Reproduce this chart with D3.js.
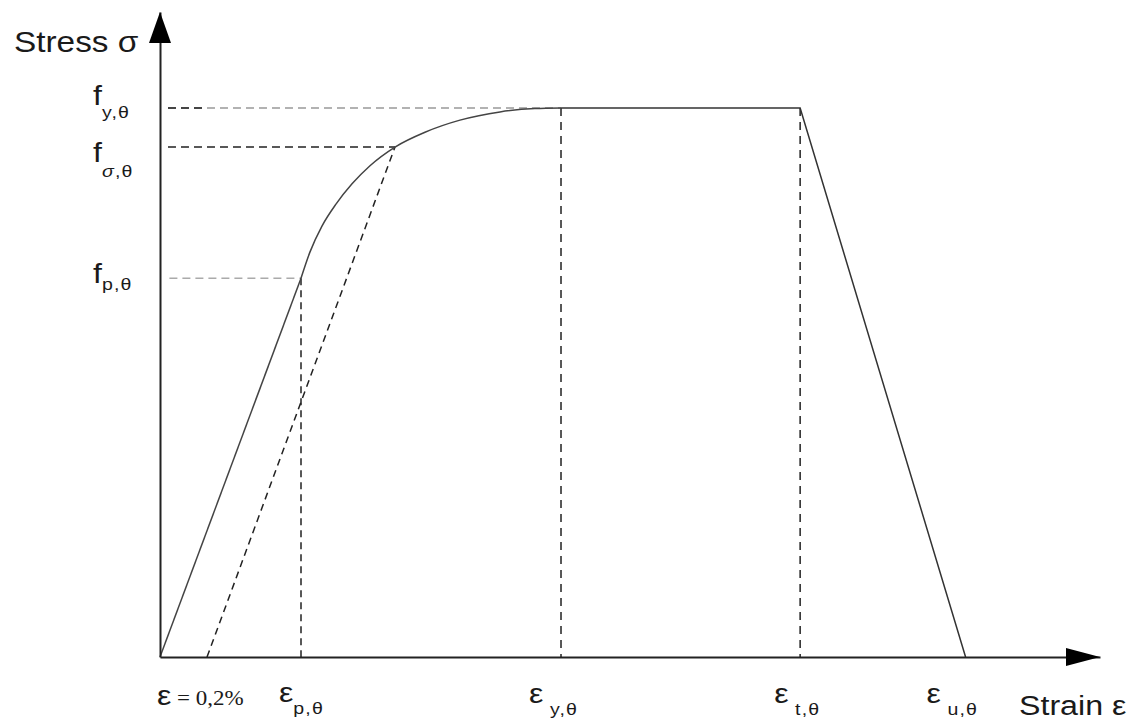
<!DOCTYPE html>
<html>
<head>
<meta charset="utf-8">
<script src="https://cdn.jsdelivr.net/npm/d3@7"></script>
<style>
  body { margin: 0; background: #fff; }
  text { font-family: "Liberation Sans", Arial, sans-serif; fill: #1a1a1a; }
</style>
</head>
<body>
<div id="chart"></div>
<script>
// schematic stress-strain diagram (strain in arbitrary units, stress relative to f_y)
var strainMarks = [5, 15, 42.66, 68.1, 85.7];           // 0.2% offset, eps_p, eps_y, eps_t, eps_u
var stressMarks = [0.69, 0.929, 1.0];                   // f_p, f_sigma, f_y

// elastic line + curved part
var curveStrain = [0, 15.0, 15.96, 17.23, 18.72, 20.43, 22.34, 25.0, 28.19, 31.91, 36.17, 39.89, 42.66];
var curveStress = [0, 0.690, 0.738, 0.785, 0.825, 0.862, 0.895, 0.929, 0.956, 0.978, 0.993, 0.999, 1.0];
// plateau and descending branch
var tailStrain = [42.66, 68.1, 85.7];
var tailStress = [1.0, 1.0, 0];

var width = 1139, height = 722;

var svg = d3.select("#chart").append("svg")
    .attr("width", width)
    .attr("height", height);

var x = d3.scaleLinear().domain([0, 100]).range([160, 1100]);
var y = d3.scaleLinear().domain([0, 1.175]).range([657, 12]);

var epsOff = strainMarks[0], epsP = strainMarks[1], epsY = strainMarks[2], epsT = strainMarks[3], epsU = strainMarks[4];
var fP = stressMarks[0], fS = stressMarks[1], fY = stressMarks[2];

// dashed helper lines
function dashed(x1, y1, x2, y2, color, dash) {
    svg.append("line")
        .attr("x1", x(x1)).attr("y1", y(y1))
        .attr("x2", x(x2)).attr("y2", y(y2))
        .attr("stroke", color)
        .attr("stroke-width", 1.5)
        .attr("stroke-dasharray", dash || "8,5");
}

dashed(0.85, fY, epsY, fY, "#999");
dashed(0.85, fY, 5, fY, "#222");
dashed(0.85, fS, 25.0, fS, "#222");
dashed(1.0, fP, epsP, fP, "#aaa");
dashed(epsP, fP, epsP, 0, "#222", "7,5");
dashed(epsY, fY, epsY, 0, "#222", "8,6");
dashed(epsT, fY, epsT, 0, "#222", "8,6");
// 0.2% offset line, parallel to the elastic branch
dashed(epsOff, 0, 25.0, fS, "#222", "7,5");

// stress-strain curve
var line = d3.line()
    .x(function (d) { return x(d[0]); })
    .y(function (d) { return y(d[1]); });
var curved = d3.line()
    .x(function (d) { return x(d[0]); })
    .y(function (d) { return y(d[1]); })
    .curve(d3.curveMonotoneX);

var pts = d3.zip(curveStrain, curveStress);
svg.append("path")
    .attr("d", line(pts.slice(0, 2)))
    .attr("fill", "none").attr("stroke", "#444").attr("stroke-width", 1.5);
svg.append("path")
    .attr("d", curved(pts.slice(1)))
    .attr("fill", "none").attr("stroke", "#444").attr("stroke-width", 1.5);
svg.append("path")
    .attr("d", line(d3.zip(tailStrain, tailStress)))
    .attr("fill", "none").attr("stroke", "#333").attr("stroke-width", 1.5);

// axes (domain lines only) with arrow heads
svg.append("g")
    .attr("transform", "translate(0," + y(0) + ")")
    .call(d3.axisBottom(x).tickValues([]).tickSizeOuter(0));
svg.append("g")
    .attr("transform", "translate(" + x(0) + ",0)")
    .call(d3.axisLeft(y).tickValues([]).tickSizeOuter(0));
svg.selectAll(".domain").attr("stroke", "#222").attr("stroke-width", 2);

svg.append("path")
    .attr("d", "M" + x(100) + "," + y(0) + " L" + (x(100) - 34) + "," + (y(0) - 9) +
        " L" + (x(100) - 34) + "," + (y(0) + 9) + "Z")
    .attr("fill", "#000");
svg.append("path")
    .attr("d", "M" + x(0) + "," + y(1.175) + " L" + (x(0) - 11) + "," + (y(1.175) + 31) +
        " L" + (x(0) + 11) + "," + (y(1.175) + 31) + "Z")
    .attr("fill", "#000");

// text is slightly wider in the original, so stretch it a bit
function txt(px, py) {
    return svg.append("text")
        .attr("transform", "translate(" + px + "," + py + ") scale(1.15,1)");
}

txt(14, 52).style("font-size", "29px").text("Stress σ");
txt(1019, 715).style("font-size", "28px").text("Strain ε");

// labels with subscripts
function label(px, py, main, sub, dy, italicFirst) {
    var t = txt(px, py).style("font-size", "28px");
    t.append("tspan").text(main);
    var s = t.append("tspan").attr("dy", dy).style("font-size", "17px")
        .attr("letter-spacing", "1");
    if (italicFirst) {
        s.append("tspan").style("font-style", "italic").text(sub[0]);
        s.append("tspan").text(sub.slice(1));
    } else {
        s.text(sub);
    }
    return t;
}

label(93, 105, "f", "y,θ", 13);
label(93, 162, "f", "σ,θ", 15, true);
label(93, 283, "f", "p,θ", 7);

label(x(epsP) - 22, 702, "ε", "p,θ", 12);
label(x(epsY) - 32, 703, "ε", " y,θ", 12);
label(x(epsT) - 26, 703, "ε", " t,θ", 12);
label(x(epsU) - 39, 703, "ε", " u,θ", 12);

var off = txt(157, 705);
off.append("tspan").style("font-size", "28px").text("ε");
off.append("tspan").style("font-size", "20px")
    .style("font-family", "'Liberation Serif', serif")
    .text(" = 0,2%");
</script>
</body>
</html>
